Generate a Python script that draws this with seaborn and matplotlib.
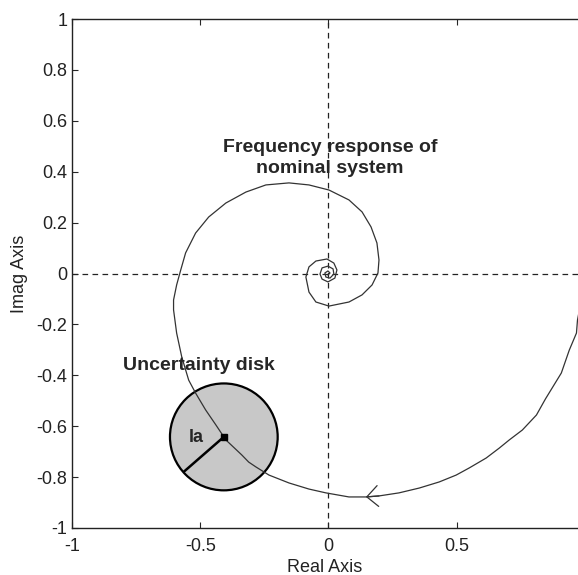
import matplotlib
matplotlib.use("Agg")
import matplotlib.pyplot as plt
from matplotlib.patches import Circle
import numpy as np
import pandas as pd
import seaborn as sns

# Nyquist curve of the nominal system
re_vals = [0.986, 0.971, 0.967, 0.939, 0.908, 0.846, 0.811, 0.756, 0.705, 0.666,
           0.615, 0.549, 0.498, 0.432, 0.354, 0.275, 0.197, 0.146, 0.080, -0.010,
           -0.076, -0.154, -0.232, -0.283, -0.311, -0.338, -0.400, -0.439, -0.479, -0.518,
           -0.545, -0.572, -0.592, -0.604, -0.604, -0.592, -0.576, -0.557, -0.518, -0.467,
           -0.400, -0.322, -0.244, -0.154, -0.076, 0.002, 0.080, 0.131, 0.166, 0.189,
           0.197, 0.193, 0.170, 0.131, 0.080, 0.002, -0.049, -0.076, -0.088, -0.076,
           -0.049, -0.006, 0.021, 0.033, 0.025, -0.002, -0.025, -0.033, -0.025, -0.002,
           0.018, 0.021, 0.006, -0.010, -0.014, -0.002, 0.006, -0.002]
im_vals = [-0.104, -0.183, -0.234, -0.301, -0.391, -0.493, -0.556, -0.615, -0.654, -0.686,
           -0.725, -0.764, -0.792, -0.819, -0.843, -0.862, -0.874, -0.878, -0.878, -0.862,
           -0.847, -0.823, -0.792, -0.760, -0.741, -0.713, -0.654, -0.595, -0.536, -0.470,
           -0.419, -0.328, -0.234, -0.143, -0.104, -0.045, 0.014, 0.081, 0.159, 0.222,
           0.277, 0.320, 0.348, 0.356, 0.348, 0.328, 0.289, 0.242, 0.183, 0.120,
           0.053, 0.002, -0.045, -0.084, -0.112, -0.128, -0.112, -0.073, -0.014, 0.026,
           0.049, 0.057, 0.041, 0.014, -0.018, -0.033, -0.022, -0.002, 0.022, 0.029,
           0.018, -0.002, -0.018, -0.014, 0.002, 0.010, 0.002, -0.006]
arrow_index = 17

# Uncertainty disk
disk_center = (-0.408, -0.642)
disk_radius = 0.21
radius_end = (-0.564, -0.779)

xticks = [-1, -0.5, 0, 0.5]
xtick_labels = ["-1", "-0.5", "0", "0.5"]
yticks = [-1, -0.8, -0.6, -0.4, -0.2, 0, 0.2, 0.4, 0.6, 0.8, 1]
ytick_labels = ["-1", "-0.8", "-0.6", "-0.4", "-0.2", "0", "0.2", "0.4", "0.6", "0.8", "1"]

sns.set_style("ticks")
plt.rcParams['font.family'] = ['Liberation Sans', 'DejaVu Sans']

fig = plt.figure(figsize=(5.78, 5.75), dpi=100)
ax = fig.add_axes([72 / 578, 47 / 575, 506 / 578, 509 / 575])

df = pd.DataFrame({"Real": re_vals, "Imag": im_vals})
sns.lineplot(data=df, x="Real", y="Imag", sort=False, estimator=None,
             color="#333333", lw=0.9, ax=ax, zorder=3)

ax.annotate("", xy=(re_vals[arrow_index], im_vals[arrow_index]),
            xytext=(re_vals[arrow_index - 1], im_vals[arrow_index - 1]),
            arrowprops=dict(arrowstyle="->,head_length=0.8,head_width=0.75",
                            color="#333333", lw=0.9, shrinkA=0, shrinkB=0),
            zorder=3)

ax.axhline(0, color="#222222", lw=0.9, ls=(0, (4.5, 3.5)), zorder=1)
ax.axvline(0, color="#222222", lw=0.9, ls=(0, (4.5, 3.5)), zorder=1)

disk = Circle(disk_center, disk_radius, facecolor="#c8c8c8", edgecolor="black",
              lw=1.6, zorder=2)
ax.add_patch(disk)
ax.plot([disk_center[0], radius_end[0]], [disk_center[1], radius_end[1]],
        color="black", lw=1.8, zorder=4, solid_capstyle="butt")
ax.plot([disk_center[0]], [disk_center[1]], marker="s", ms=5, color="black", zorder=5)

ax.text(-0.514, -0.646, "la", fontsize=13, fontweight="bold", ha="center", va="center", zorder=6)
ax.text(-0.506, -0.36, "Uncertainty disk", fontsize=14, fontweight="bold",
        ha="center", va="center")
ax.text(0.006, 0.454, "Frequency response of\nnominal system", fontsize=14,
        fontweight="bold", ha="center", va="center", linespacing=1.3)

ax.set_xlim(-1, 0.973)
ax.set_ylim(-1, 1)
ax.set_xticks(xticks)
ax.set_xticklabels(xtick_labels)
ax.set_yticks(yticks)
ax.set_yticklabels(ytick_labels)
ax.tick_params(direction="in", length=4, width=0.8, top=True, right=False,
               labelsize=13, labelcolor="#222222")
ax.tick_params(axis="x", pad=7)
ax.tick_params(axis="y", pad=3.5)
ax.set_xlabel("Real Axis", fontsize=13, color="#222222", labelpad=3)
ax.set_ylabel("Imag Axis", fontsize=13, color="#222222", labelpad=6)
ax.spines["right"].set_visible(False)
for s in ["left", "top", "bottom"]:
    ax.spines[s].set_linewidth(1.0)
    ax.spines[s].set_color("#222222")

fig.savefig("out.png", dpi=100)
